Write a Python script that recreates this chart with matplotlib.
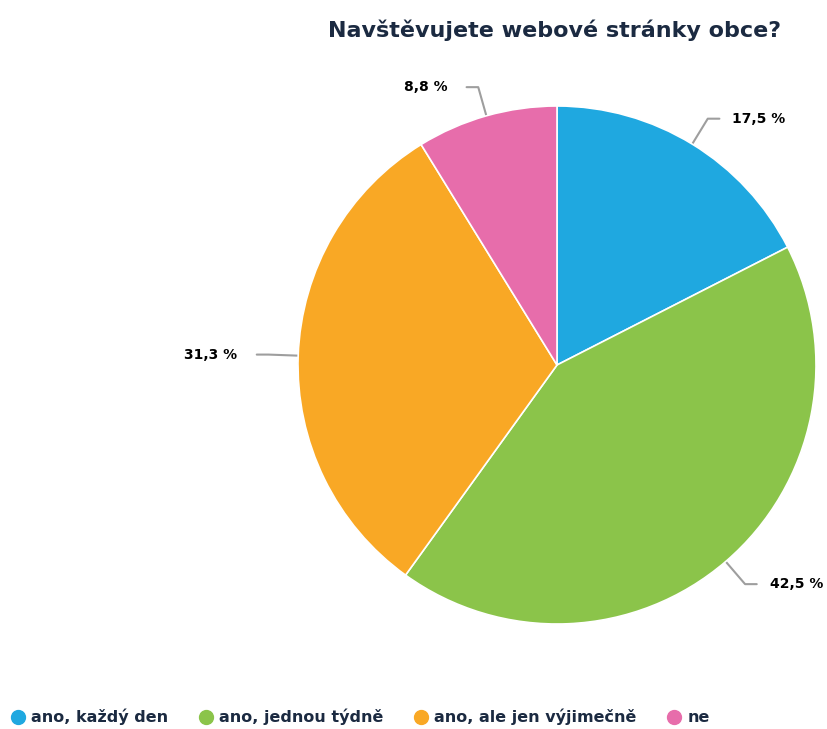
import numpy as np
import matplotlib
matplotlib.use("Agg")
import matplotlib.pyplot as plt
from matplotlib.lines import Line2D

title = "Navštěvujete webové stránky obce?"
categories = ["ano, každý den", "ano, jednou týdně", "ano, ale jen výjimečně", "ne"]
values = [17.5, 42.5, 31.3, 8.8]
colors = ["#1fa8e0", "#8bc44a", "#f9a825", "#e76dab"]
text_color = "#1b2a41"

W, H = 828, 729
fig = plt.figure(figsize=(W / 100, H / 100), dpi=100)
ax = fig.add_axes([0, 0, 1, 1])

wedges, _ = ax.pie(values, colors=colors, startangle=90, counterclock=False,
                   radius=1.0, center=(0, 0),
                   wedgeprops=dict(edgecolor="white", linewidth=1.2))

# pie centre and radius in pixels; axes units are pie radii
cx, cy, r = 557, 365, 259
ax.set_xlim(-cx / r, (W - cx) / r)
ax.set_ylim(-(H - cy) / r, cy / r)
ax.set_aspect("equal", adjustable="box")
ax.axis("off")

# leader lines and value labels
for w, v in zip(wedges, values):
    ang = np.deg2rad((w.theta1 + w.theta2) / 2)
    x0, y0 = np.cos(ang), np.sin(ang)
    x1, y1 = 1.115 * x0, 1.115 * y0
    side = 1 if x0 >= 0 else -1
    x2 = x1 + side * 0.045
    ax.plot([x0, x1, x2], [y0, y1, y1], color="#9e9e9e", lw=1.5,
            solid_joinstyle="round", solid_capstyle="round", zorder=0)
    gap = 0.05 if side > 0 else 0.075
    ax.text(x2 + side * gap, y1, f"{v:.1f} %".replace(".", ","),
            ha="left" if side > 0 else "right", va="center",
            fontsize=10, fontweight="bold", color="black")

fig.text(555 / W, 1 - 30 / H, title, ha="center", va="center",
         fontsize=16, fontweight="bold", color=text_color)

handles = [Line2D([], [], marker="o", linestyle="none", markersize=10,
                  markerfacecolor=c, markeredgecolor=c) for c in colors]
fig.legend(handles, categories, loc="lower left", bbox_to_anchor=(0.003, -0.006),
           ncol=4, frameon=False, handletextpad=0.38, columnspacing=1.9,
           handlelength=0.9, borderaxespad=0.3, borderpad=0.2,
           prop=dict(size=11.5, weight="bold"), labelcolor=text_color)

fig.savefig("out.png", dpi=100)
